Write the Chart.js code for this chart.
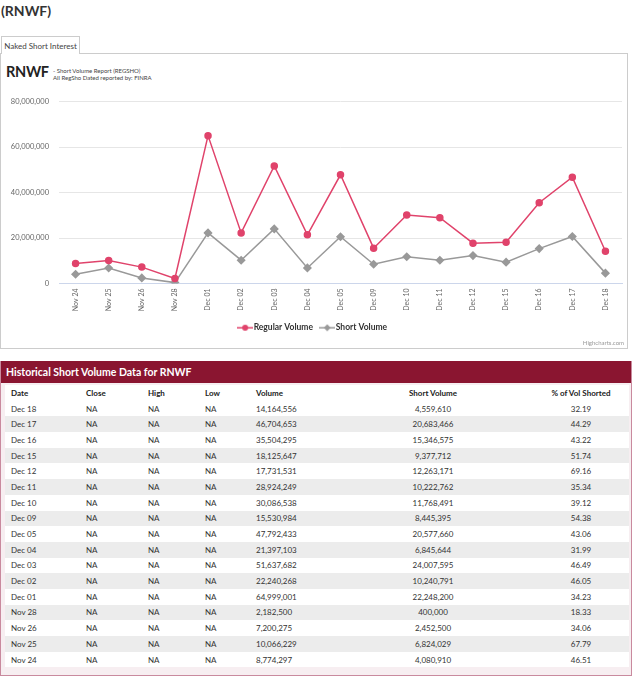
<!DOCTYPE html>
<html>
<head>
<meta charset="utf-8">
<script src="https://cdn.jsdelivr.net/npm/chart.js@4"></script>
<style>
  body { margin: 0; background: #fff; font-family: Lato, "Open Sans", sans-serif; color: #222; }
  #page { position: relative; width: 635px; height: 680px; overflow: hidden; }
  h1 { position: absolute; left: 1px; top: 2px; margin: 0; font-size: 14px; font-weight: 700; color: #333; }
  .tab { position: absolute; left: 1px; top: 36px; width: 77px; height: 17px; border: 1px solid #ccc; border-bottom: none;
         background: #fff; font-size: 8px; line-height: 18px; text-align: center; color: #444; z-index: 2; }
  .panel { position: absolute; left: 0; top: 53px; width: 626px; height: 294px; border: 1px solid #ccc; }
  .sym { position: absolute; left: 5px; top: 9px; font-size: 14.5px; font-weight: 700; color: #222; letter-spacing: -0.3px; }
  .sub { position: absolute; left: 52px; top: 13px; font-size: 6px; line-height: 7px; color: #444; }
  #chartBox { position: absolute; left: 0; top: 33px; width: 626px; height: 255px; }
  .credits { position: absolute; right: 3px; bottom: 2px; font-size: 6px; color: #999; }
  .hist { position: absolute; left: 0; top: 361px; width: 630px; height: 314px; border: 1px solid #c98a9e; border-top: none; background: #f7eef1; }
  .hist .bar { height: 22px; background: #8a1530; color: #fff; font-weight: 700; font-size: 10.5px; line-height: 23px; padding-left: 5px; }
  table { position: absolute; left: 4px; top: 24px; width: 624px; border-collapse: collapse; background: #fff; font-size: 8px; table-layout: fixed; }
  td, th { height: 15.7px; padding: 0 0 0 6px; text-align: left; white-space: nowrap; }
  th { font-weight: 700; color: #222; }
  td { color: #333; }
  tbody tr:nth-child(even) td { background: #ececec; }
  td.c, th.c { text-align: center; padding: 0; }
</style>
</head>
<body>
<div id="page">
  <h1>(RNWF)</h1>
  <div class="tab">Naked Short Interest</div>
  <div class="panel">
    <div class="sym">RNWF</div>
    <div class="sub">- Short Volume Report (REGSHO)<br>All RegSho Dated reported by: FINRA</div>
    <div id="chartBox"><canvas id="chart"></canvas></div>
    <div class="credits">Highcharts.com</div>
  </div>
  <div class="hist">
    <div class="bar">Historical Short Volume Data for RNWF</div>
    <table>
      <colgroup>
        <col style="width:75px"><col style="width:62px"><col style="width:57px"><col style="width:51px">
        <col style="width:83px"><col style="width:200px"><col>
      </colgroup>
      <thead>
        <tr>
          <th>Date</th><th>Close</th><th>High</th><th>Low</th><th>Volume</th>
          <th class="c">Short Volume</th><th class="c">% of Vol Shorted</th>
        </tr>
      </thead>
      <tbody id="rows"></tbody>
    </table>
  </div>
</div>
<script>
// --- DATA ---
const dates = ["Nov 24", "Nov 25", "Nov 26", "Nov 28", "Dec 01", "Dec 02", "Dec 03", "Dec 04", "Dec 05",
  "Dec 09", "Dec 10", "Dec 11", "Dec 12", "Dec 15", "Dec 16", "Dec 17", "Dec 18"];
const regularVolume = [8774297, 10066229, 7200275, 2182500, 64999001, 22240268, 51637682, 21397103, 47792433,
  15530984, 30086538, 28924249, 17731531, 18125647, 35504295, 46704653, 14164556];
const shortVolume = [4080910, 6824029, 2452500, 400000, 22248200, 10240791, 24007595, 6845644, 20577660,
  8445395, 11768491, 10222762, 12263171, 9377712, 15346575, 20683466, 4559610];
const pctShorted = ["46.51", "67.79", "34.06", "18.33", "34.23", "46.05", "46.49", "31.99", "43.06",
  "54.38", "39.12", "35.34", "69.16", "51.74", "43.22", "44.29", "32.19"];
const yTicks = [0, 20000000, 40000000, 60000000, 80000000];

const PINK = "#e0436b";
const GRAY = "#999999";

// --- TABLE (newest first) ---
const fmt = (n) => n.toLocaleString("en-US");
const rowsEl = document.getElementById("rows");
rowsEl.innerHTML = dates.map((d, i) => i).reverse().map((i) => `
  <tr>
    <td>${dates[i]}</td><td>NA</td><td>NA</td><td>NA</td><td>${fmt(regularVolume[i])}</td>
    <td class="c">${fmt(shortVolume[i])}</td><td class="c">${pctShorted[i]}</td>
  </tr>`).join("");

// legend symbol: short line with marker in the middle
function legendIcon(color, shape) {
  const c = document.createElement("canvas");
  c.width = 16; c.height = 8;
  const g = c.getContext("2d");
  g.strokeStyle = color; g.fillStyle = color; g.lineWidth = 1.5;
  g.beginPath(); g.moveTo(0, 4); g.lineTo(16, 4); g.stroke();
  g.beginPath();
  if (shape === "circle") {
    g.arc(8, 4, 3, 0, Math.PI * 2);
  } else {
    g.moveTo(8, 0.5); g.lineTo(11.5, 4); g.lineTo(8, 7.5); g.lineTo(4.5, 4); g.closePath();
  }
  g.fill();
  return c;
}
const icons = [legendIcon(PINK, "circle"), legendIcon(GRAY, "diamond")];

new Chart(document.getElementById("chart"), {
  type: "line",
  data: {
    labels: dates,
    datasets: [
      { label: "Regular Volume", data: regularVolume, borderColor: PINK, backgroundColor: PINK,
        borderWidth: 1.5, pointRadius: 3, pointHoverRadius: 3, pointStyle: "circle", tension: 0 },
      { label: "Short Volume", data: shortVolume, borderColor: GRAY, backgroundColor: GRAY,
        borderWidth: 1.5, pointRadius: 3.5, pointHoverRadius: 3.5, pointStyle: "rectRot", tension: 0 }
    ]
  },
  options: {
    responsive: true,
    maintainAspectRatio: false,
    animation: false,
    layout: { padding: { top: 7, right: 0, left: 0, bottom: 0 } },
    plugins: {
      tooltip: { enabled: false },
      legend: {
        position: "bottom",
        labels: {
          usePointStyle: true,
          boxWidth: 16, boxHeight: 8, padding: 10,
          font: { family: "Lato", size: 8.5, weight: "bold" }, color: "#333",
          generateLabels: (chart) => chart.data.datasets.map((ds, i) => ({
            text: ds.label, pointStyle: icons[i], fillStyle: ds.borderColor,
            strokeStyle: ds.borderColor, lineWidth: 0, hidden: false, datasetIndex: i, fontColor: "#333"
          }))
        }
      }
    },
    scales: {
      x: {
        offset: true,
        grid: { display: false, drawTicks: false },
        border: { color: "#ccd6eb", width: 1 },
        ticks: { maxRotation: 90, minRotation: 90, padding: 5, color: "#666",
                 font: { family: "Lato", size: 7 }, autoSkip: false },
        afterFit: (s) => { s.height = 30; }
      },
      y: {
        min: 0, max: 80000000,
        afterBuildTicks: (s) => { s.ticks = yTicks.map((v) => ({ value: v })); },
        grid: { color: "#e6e6e6", drawTicks: false },
        border: { display: false },
        ticks: { padding: 10, color: "#666", font: { family: "Lato", size: 7.5 },
                 callback: (v) => fmt(v) },
        afterFit: (s) => { s.width = 58; }
      }
    }
  }
});
</script>
</body>
</html>
